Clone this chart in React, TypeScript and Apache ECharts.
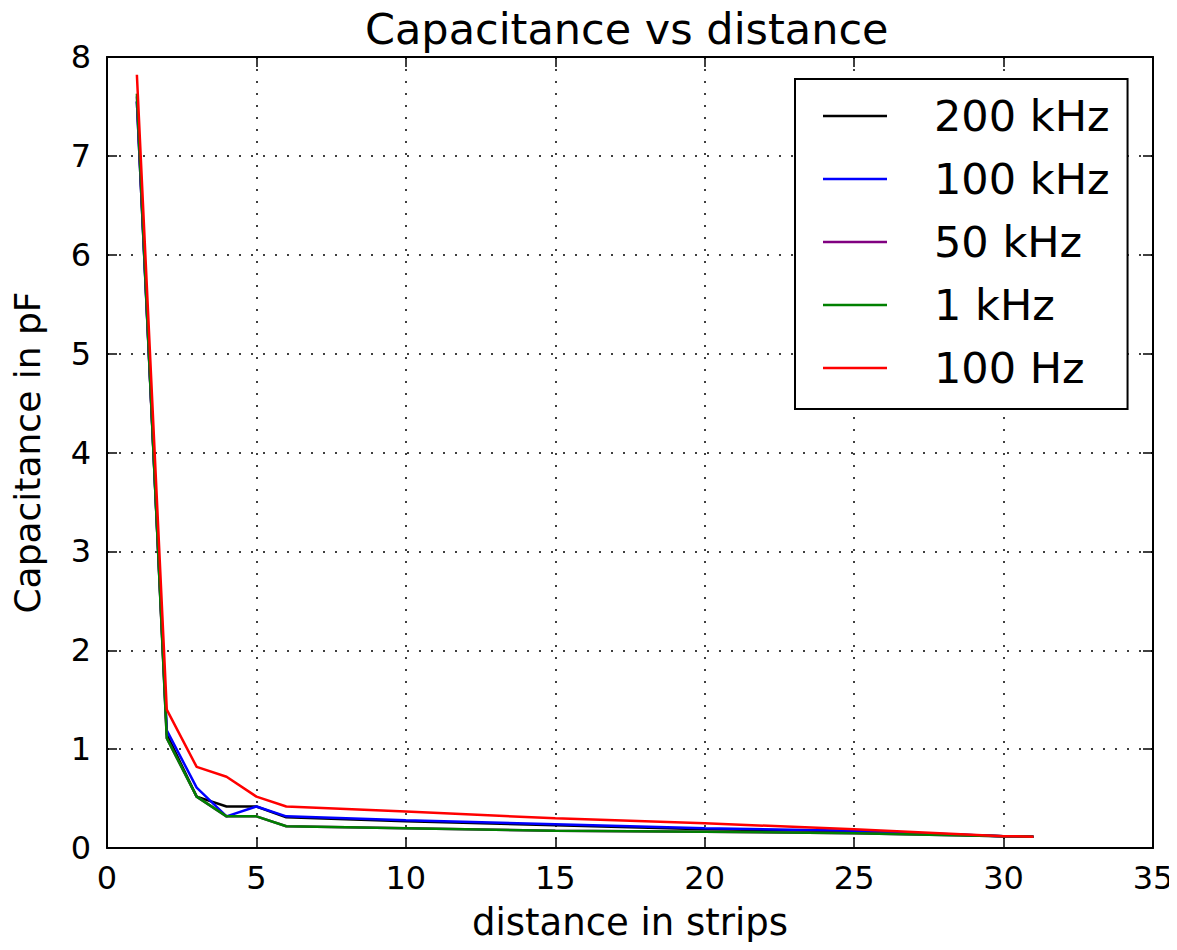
import React, { useEffect, useRef } from "react";
import * as echarts from "echarts";

const distances = [1, 2, 3, 4, 5, 6, 10, 15, 20, 25, 30, 31];
const seriesNames = ["200 kHz", "100 kHz", "50 kHz", "1 kHz", "100 Hz"];
const c200k = [7.55, 1.15, 0.52, 0.42, 0.42, 0.31, 0.27, 0.23, 0.19, 0.17, 0.12, 0.115];
const c100k = [7.55, 1.19, 0.61, 0.32, 0.42, 0.32, 0.28, 0.24, 0.2, 0.175, 0.12, 0.115];
const c50k = [7.6, 1.11, 0.52, 0.32, 0.32, 0.22, 0.2, 0.175, 0.165, 0.15, 0.12, 0.115];
const c1k = [7.63, 1.11, 0.52, 0.32, 0.32, 0.22, 0.2, 0.175, 0.165, 0.15, 0.12, 0.115];
const c100 = [7.82, 1.4, 0.82, 0.72, 0.52, 0.42, 0.37, 0.3, 0.25, 0.19, 0.12, 0.115];
const colors = ["#000000", "#0000ff", "#800080", "#008000", "#ff0000"];

const FONT = "DejaVu Sans";

export default function App() {
  const ref = useRef<HTMLDivElement>(null);
  useEffect(() => {
    if (!ref.current) return;
    const chart = echarts.init(ref.current, undefined, { renderer: "svg" });
    const all = [c200k, c100k, c50k, c1k, c100];
    const axisCommon = {
      axisLine: { show: true, onZero: false, lineStyle: { color: "#000", width: 2 } },
      axisTick: { show: true, inside: true, length: 10, lineStyle: { color: "#000", width: 1.5 } },
    };
    chart.setOption({
      animation: false,
      backgroundColor: "#ffffff",
      title: {
        text: "Capacitance vs distance",
        left: 360,
        top: 2,
        textStyle: { fontFamily: FONT, fontSize: 43, fontWeight: "normal", color: "#000" },
      },
      grid: { left: 107, right: 24, top: 57, bottom: 102, containLabel: false, outerBoundsMode: "none" },
      legend: {
        data: seriesNames,
        orient: "vertical",
        left: 795,
        top: 79,
        icon: "rect",
        itemWidth: 64,
        itemHeight: 2.5,
        itemGap: 17,
        padding: [14, 18, 18, 28],
        borderColor: "#000",
        borderWidth: 2,
        backgroundColor: "#fff",
        textStyle: {
          fontFamily: FONT,
          fontSize: 43,
          color: "#000",
          lineHeight: 46,
          padding: [0, 0, 0, 42],
        },
      },
      xAxis: [
        {
          type: "value",
          min: 0,
          max: 35,
          interval: 5,
          name: "distance in strips",
          nameLocation: "middle",
          nameGap: 56,
          nameTextStyle: { fontFamily: FONT, fontSize: 37, color: "#000" },
          ...axisCommon,
          axisLabel: { fontFamily: FONT, fontSize: 32, color: "#000", margin: 14 },
          splitLine: { show: true, lineStyle: { color: "#000", type: [2, 10], width: 1.5 } },
        },
        {
          type: "value",
          position: "top",
          min: 0,
          max: 35,
          interval: 5,
          ...axisCommon,
          axisLabel: { show: false },
          splitLine: { show: false },
        },
      ],
      yAxis: [
        {
          type: "value",
          min: 0,
          max: 8,
          interval: 1,
          name: "Capacitance in pF",
          nameLocation: "middle",
          nameGap: 62,
          nameTextStyle: { fontFamily: FONT, fontSize: 36, color: "#000" },
          ...axisCommon,
          axisLabel: { fontFamily: FONT, fontSize: 32, color: "#000", margin: 16 },
          splitLine: { show: true, lineStyle: { color: "#000", type: [2, 10], width: 1.5 } },
        },
        {
          type: "value",
          position: "right",
          min: 0,
          max: 8,
          interval: 1,
          ...axisCommon,
          axisLabel: { show: false },
          splitLine: { show: false },
        },
      ],
      series: seriesNames.map((name, i) => ({
        name,
        type: "line",
        xAxisIndex: 0,
        yAxisIndex: 0,
        symbol: "none",
        color: colors[i],
        lineStyle: { color: colors[i], width: 2.5 },
        data: distances.map((d, j) => [d, all[i][j]]),
      })),
    });
    return () => chart.dispose();
  }, []);
  return <div ref={ref} style={{ width: 1177, height: 950, margin: -8, overflow: "hidden" }} />;
}
